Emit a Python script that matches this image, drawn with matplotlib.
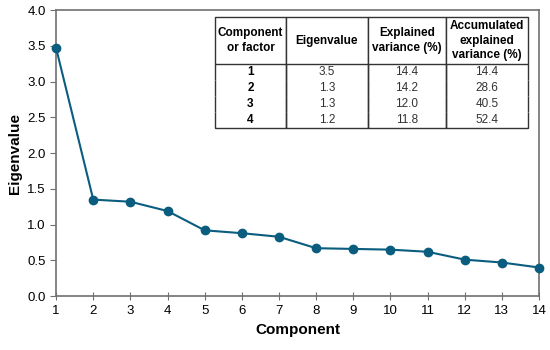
import matplotlib.pyplot as plt

plt.rcParams['font.family'] = ['Liberation Sans', 'DejaVu Sans']

components = list(range(1, 15))
eigenvalues = [3.47, 1.35, 1.32, 1.19, 0.92, 0.88, 0.83, 0.67, 0.66, 0.65, 0.62, 0.51, 0.47, 0.40]

col_labels = ['Component\nor factor', 'Eigenvalue', 'Explained\nvariance (%)', 'Accumulated\nexplained\nvariance (%)']
tab_comp = ['1', '2', '3', '4']
tab_eig = ['3.5', '1.3', '1.3', '1.2']
tab_expl = ['14.4', '14.2', '12.0', '11.8']
tab_acc = ['14.4', '28.6', '40.5', '52.4']

line_color = '#0a5d7e'
spine_color = '#707070'

fig = plt.figure(figsize=(5.5, 3.5), dpi=100)
ax = fig.add_axes([0.102, 0.154, 0.878, 0.817])

ax.plot(components, eigenvalues, color=line_color, lw=1.5, marker='o',
        markersize=6, clip_on=False, zorder=3)

ax.set_xlim(1, 14)
ax.set_ylim(0, 4.0)
ax.set_xticks(components)
ax.set_yticks([0, 0.5, 1.0, 1.5, 2.0, 2.5, 3.0, 3.5, 4.0])
ax.set_yticklabels(['%.1f' % v for v in ax.get_yticks()])
ax.tick_params(axis='x', direction='inout', length=6, colors=spine_color,
               labelcolor='black', labelsize=9.5)
ax.tick_params(axis='y', direction='out', length=4, colors=spine_color,
               labelcolor='black', labelsize=9.5)
for s in ax.spines.values():
    s.set_color(spine_color)
    s.set_linewidth(1.2)

ax.set_xlabel('Component', fontsize=11, fontweight='bold', labelpad=4)
ax.set_ylabel('Eigenvalue', fontsize=11, fontweight='bold', labelpad=4)

# table in the upper right
rows = [list(r) for r in zip(tab_comp, tab_eig, tab_expl, tab_acc)]
tbl = ax.table(cellText=rows, colLabels=col_labels, cellLoc='center',
               bbox=[0.329, 0.587, 0.648, 0.389])
tbl.auto_set_font_size(False)
widths = [71, 82, 78, 82]
for (r, c), cell in tbl.get_celld().items():
    cell.set_width(widths[c])
    cell.set_linewidth(1.0)
    cell.set_edgecolor('#333333')
    cell.get_text().set_fontsize(8.5)
    if r == 0:
        cell.set_height(47)
        cell.get_text().set_fontweight('bold')
        cell.get_text().set_linespacing(1.25)
        cell.visible_edges = 'closed'
    else:
        cell.set_height(16)
        if c == 0:
            cell.get_text().set_fontweight('bold')
        else:
            cell.get_text().set_color('#333333')
        if r == len(rows):
            cell.visible_edges = 'BLR'
        else:
            cell.visible_edges = 'LR'

fig.savefig('out.png', dpi=100)
